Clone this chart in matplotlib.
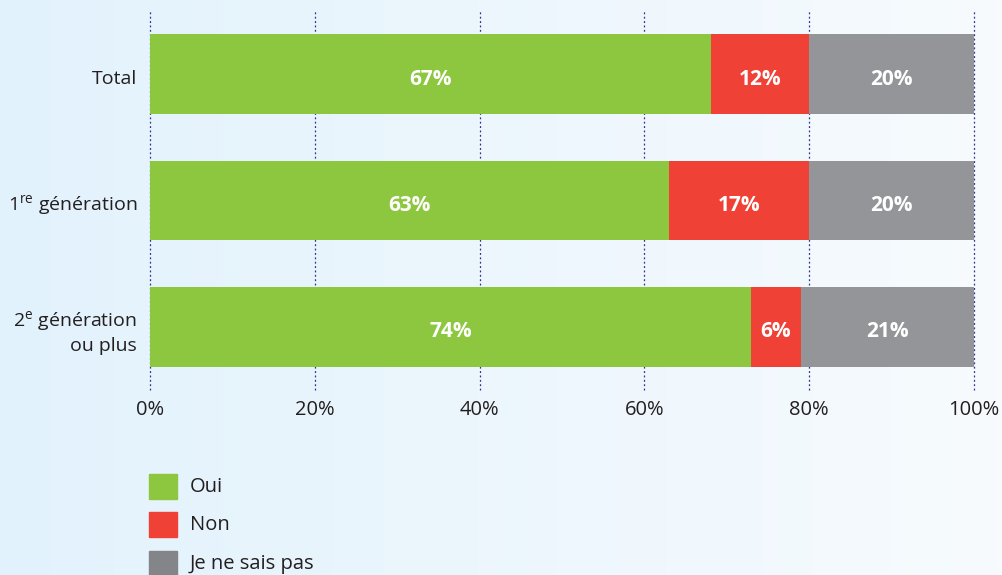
import numpy as np
import matplotlib
matplotlib.use("Agg")
import matplotlib.pyplot as plt
import matplotlib.transforms as mtransforms
from matplotlib.patches import Rectangle
from matplotlib.colors import LinearSegmentedColormap

plt.rcParams["font.family"] = ["Open Sans", "DejaVu Sans"]

# ---- data ----
groups = ["Total", "1$^{\\mathregular{re}}$ génération", "2$^{\\mathregular{e}}$ génération\nou plus"]
series = ["Oui", "Non", "Je ne sais pas"]
oui = [68.1, 63.0, 72.9]
non = [11.9, 17.0, 6.1]
nsp = [20.0, 20.0, 21.0]
oui_lbl = ["67%", "63%", "74%"]
non_lbl = ["12%", "17%", "6%"]
nsp_lbl = ["20%", "20%", "21%"]
ticks = [0, 20, 40, 60, 80, 100]

colors = ["#8DC63F", "#EF4136", "#939598"]
legend_colors = ["#8DC63F", "#EF4136", "#848589"]

W, H = 1003, 575
fig = plt.figure(figsize=(W / 100, H / 100), dpi=100)

# background gradient, light blue on the left fading to near white
bg = fig.add_axes([0, 0, 1, 1], zorder=-10)
grad = np.linspace(0, 1, 256)[None, :]
cmap = LinearSegmentedColormap.from_list("bg", ["#E2F2FC", "#F7FBFE"])
bg.imshow(grad, aspect="auto", cmap=cmap, extent=[0, 1, 0, 1])
bg.axis("off")

ax = fig.add_axes([150 / W, 1 - 390 / H, 824 / W, 379 / H])
ax.patch.set_alpha(0)

# text in the reference sits a few pixels below bar centres
down = mtransforms.ScaledTranslation(0, -5 / 100, fig.dpi_scale_trans)

y = np.arange(len(groups))
h = 0.632
left = np.zeros(len(groups))
for vals, lbls, c in zip([oui, non, nsp], [oui_lbl, non_lbl, nsp_lbl], colors):
    ax.barh(y, vals, left=left, height=h, color=c, zorder=3)
    for yi, l, v, t in zip(y, left, vals, lbls):
        ax.text(l + v / 2, yi, t, ha="center", va="center", color="white",
                fontsize=15, fontweight="bold", zorder=4,
                transform=ax.transData + down)
    left = left + np.array(vals)

ax.set_xlim(0, 100)
ax.set_ylim(2.5, -0.5)
ax.set_xticks(ticks)
ax.set_xticklabels([f"{t}%" for t in ticks], fontsize=14.5, color="#231F20")
ax.set_yticks([])
ax.tick_params(length=0)
ax.tick_params(axis="x", pad=7)

# category labels, right-aligned left of the bars
lab_tr = mtransforms.blended_transform_factory(ax.transAxes, ax.transData) + \
    mtransforms.ScaledTranslation(-13 / 100, -5 / 100, fig.dpi_scale_trans)
for yi, g in zip(y, groups):
    ax.text(0, yi, g, ha="right", va="center", fontsize=14, color="#231F20",
            linespacing=1.2, transform=lab_tr)

for s in ax.spines.values():
    s.set_visible(False)
for t in ticks:
    ax.axvline(t, color="#2E3192", linestyle=(0, (1.5, 2)), linewidth=0.9,
               zorder=1, clip_on=False)

# legend drawn by hand in pixel positions
for i, (name, c) in enumerate(zip(series, legend_colors)):
    yc = 486 + i * 38.5
    fig.add_artist(Rectangle((149 / W, 1 - (yc + 12.5) / H), 28 / W, 25 / H,
                             transform=fig.transFigure, color=c))
    fig.text(190 / W, 1 - (yc + 1) / H, name, ha="left", va="center",
             fontsize=14.5, color="#231F20")

fig.savefig("out.png", dpi=100)
